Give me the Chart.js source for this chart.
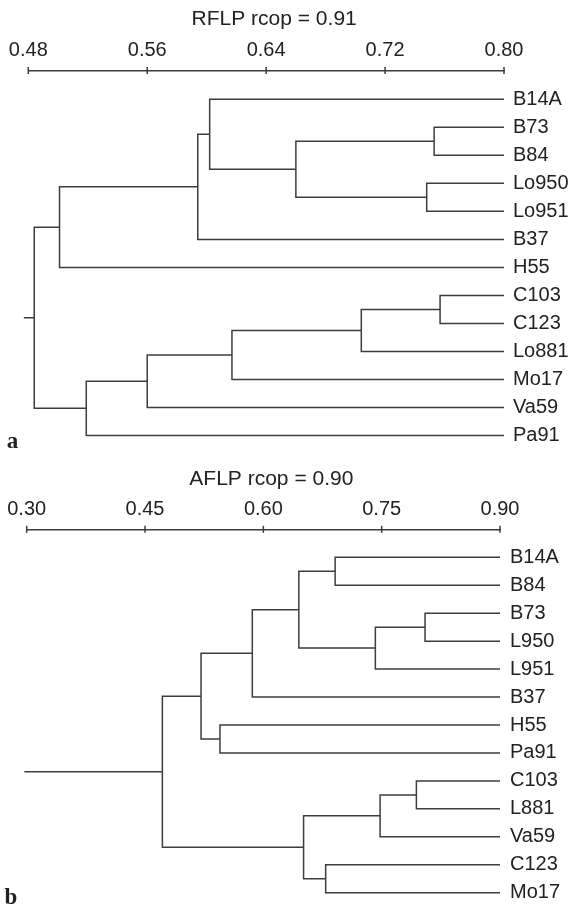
<!DOCTYPE html>
<html><head><meta charset="utf-8">
<script src="https://cdn.jsdelivr.net/npm/chart.js@4.4.1/dist/chart.umd.min.js"></script>
<style>
html,body{margin:0;padding:0;background:#fff;}
#wrap{position:relative;width:571px;height:907px;overflow:hidden;background:#fff;}
canvas{position:absolute;left:0;}
</style></head><body>
<div id="wrap">
<canvas id="c1" width="571" height="460" style="top:0px"></canvas>
<canvas id="c2" width="571" height="447" style="top:460px"></canvas>
</div>
<script>
// ---------- Panel a: RFLP ----------
const rflpTitle = 'RFLP rcop = 0.91';
const rflpLetter = 'a';
const rflpLeaves = ['B14A','B73','B84','Lo950','Lo951','B37','H55','C103','C123','Lo881','Mo17','Va59','Pa91'];
// merges: child ids (0-12 = leaves, 13+ = earlier merges in order) and similarity level
const rflpMergeLeft  = [1, 3, 13, 0, 16, 17, 7, 19, 20, 21, 22, 18];
const rflpMergeRight = [2, 4, 14, 15, 5, 6, 8, 9, 10, 11, 12, 23];
const rflpMergeLevel = [0.753, 0.748, 0.660, 0.602, 0.594, 0.501, 0.757, 0.704, 0.617, 0.560, 0.519, 0.484];
const rflpTicks = [0.48, 0.56, 0.64, 0.72, 0.80];
const rflpRootStart = 0.477;

// ---------- Panel b: AFLP ----------
const aflpTitle = 'AFLP rcop = 0.90';
const aflpLetter = 'b';
const aflpLeaves = ['B14A','B84','B73','L950','L951','B37','H55','Pa91','C103','L881','Va59','C123','Mo17'];
const aflpMergeLeft  = [0, 2, 14, 13, 16, 6, 17, 8, 20, 11, 21, 19];
const aflpMergeRight = [1, 3, 4, 15, 5, 7, 18, 9, 10, 12, 22, 23];
const aflpMergeLevel = [0.691, 0.805, 0.742, 0.645, 0.586, 0.545, 0.521, 0.794, 0.748, 0.679, 0.651, 0.472];
const aflpTicks = [0.30, 0.45, 0.60, 0.75, 0.90];
const aflpRootStart = 0.297;

const LINE = '#3d3d3d';
const TEXT = '#222222';
const FONT = "'Liberation Sans', Arial, Helvetica, sans-serif";

function buildSegments(leaves, left, right, level, leafX, rootStart) {
  const pos = leaves.map((_, i) => ({x: leafX, y: i}));
  const sets = [];
  for (let k = 0; k < level.length; k++) {
    const a = pos[left[k]], b = pos[right[k]], h = level[k];
    sets.push({data: [{x: a.x, y: a.y}, {x: h, y: a.y}, {x: h, y: b.y}, {x: b.x, y: b.y}]});
    pos.push({x: h, y: (a.y + b.y) / 2});
  }
  const root = pos[pos.length - 1];
  sets.push({data: [{x: rootStart, y: root.y}, {x: root.x, y: root.y}]});
  return sets.map(d => Object.assign(d, {
    showLine: true, borderColor: LINE, borderWidth: 1.5, pointRadius: 0,
    pointHoverRadius: 0, fill: false, tension: 0, clip: false
  }));
}

const decor = {
  id: 'decor',
  afterDraw(chart, args, o) {
    const {ctx, chartArea} = chart;
    const x = chart.scales.x;
    ctx.save();
    ctx.strokeStyle = LINE; ctx.lineWidth = 1.5;
    x.ticks.forEach(t => {
      const px = x.getPixelForValue(t.value);
      ctx.beginPath(); ctx.moveTo(px, x.bottom - 3.5); ctx.lineTo(px, x.bottom + 3.5); ctx.stroke();
    });
    ctx.fillStyle = TEXT;
    ctx.font = '21px ' + FONT; ctx.textAlign = 'center'; ctx.textBaseline = 'middle';
    ctx.fillText(o.title, (chartArea.left + chartArea.right) / 2 + 8, 19.5);
    ctx.font = 'bold 23px "Liberation Serif", "DejaVu Serif", serif';
    ctx.textBaseline = 'alphabetic';
    ctx.fillText(o.letter, o.letterX, o.letterY);
    ctx.restore();
  }
};

function makeChart(id, leaves, left, right, level, ticks, rootStart, title, letter, cfg) {
  const leafX = ticks[ticks.length - 1];
  return new Chart(document.getElementById(id), {
    type: 'scatter',
    data: {datasets: buildSegments(leaves, left, right, level, leafX, rootStart)},
    options: {
      responsive: false, animation: false, devicePixelRatio: 1, events: [],
      layout: {padding: {left: cfg.left, right: 0, top: 0, bottom: 0}},
      plugins: {
        legend: {display: false}, tooltip: {enabled: false}, title: {display: false},
        decor: {title: title, letter: letter, letterX: cfg.letterX, letterY: cfg.letterY}
      },
      scales: {
        x: {
          type: 'linear', position: 'top', min: ticks[0], max: leafX,
          afterBuildTicks: s => { s.ticks = ticks.map(v => ({value: v})); },
          afterFit: s => { s.height = cfg.axisY; s.paddingLeft = 0; s.paddingRight = 0; },
          grid: {display: false, drawTicks: false, tickLength: 0},
          border: {display: true, color: LINE, width: 1.5},
          ticks: {padding: 8, color: TEXT, font: {family: FONT, size: 20}, maxRotation: 0,
                  autoSkip: false, callback: v => Number(v).toFixed(2)}
        },
        y: {
          type: 'linear', position: 'right', reverse: true, min: cfg.yMin, max: cfg.yMax,
          afterBuildTicks: s => { s.ticks = leaves.map((_, i) => ({value: i})); },
          afterFit: s => { s.width = cfg.rightW; s.paddingTop = 0; s.paddingBottom = 0; },
          grid: {display: false, drawTicks: false, tickLength: 0}, border: {display: false},
          ticks: {padding: cfg.labelPad, color: TEXT, font: {family: FONT, size: 20},
                  autoSkip: false, callback: (v, i) => leaves[i]}
        }
      }
    },
    plugins: [decor]
  });
}

makeChart('c1', rflpLeaves, rflpMergeLeft, rflpMergeRight, rflpMergeLevel, rflpTicks, rflpRootStart,
  rflpTitle, rflpLetter,
  {left: 28.3, rightW: 67, axisY: 70.5, yMin: -1.028, yMax: 12.874, labelPad: 9, letterX: 12.5, letterY: 448});
makeChart('c2', aflpLeaves, aflpMergeLeft, aflpMergeRight, aflpMergeLevel, aflpTicks, aflpRootStart,
  aflpTitle, aflpLetter,
  {left: 26.7, rightW: 71, axisY: 69.3, yMin: -1.0, yMax: 12.51, labelPad: 10, letterX: 11, letterY: 444});
</script>
</body></html>
